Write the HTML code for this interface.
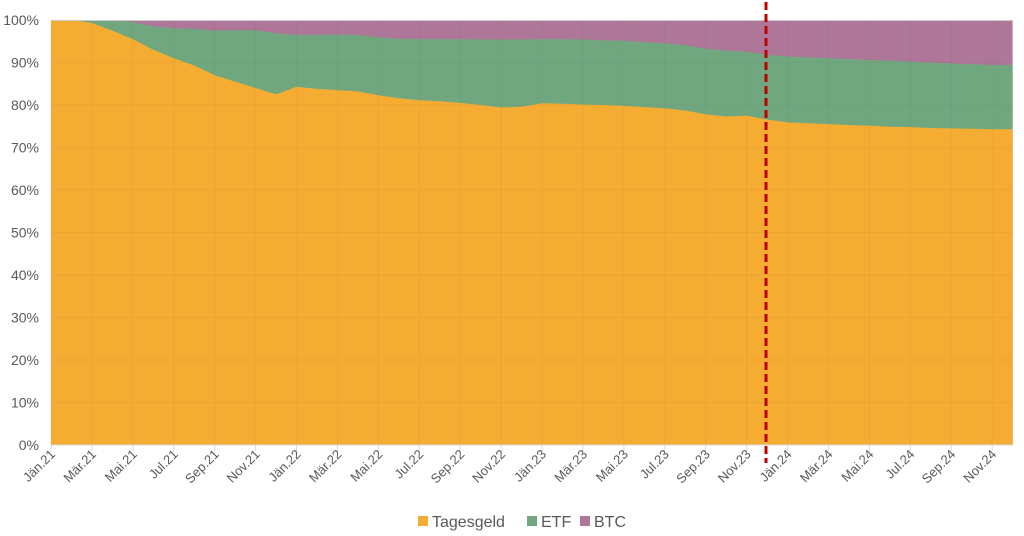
<!DOCTYPE html>
<html><head><meta charset="utf-8"><style>
html,body{margin:0;padding:0;background:#fff;}
svg{display:block;font-family:"Liberation Sans",sans-serif;}
</style></head><body>
<svg id="c" width="1024" height="536" xmlns="http://www.w3.org/2000/svg"></svg>
<script>
const T=[100,100,99.3,97.5,95.5,93,91,89.3,87,85.5,84,82.5,84.3,83.8,83.5,83.2,82.3,81.6,81.1,80.9,80.5,80,79.4,79.6,80.4,80.3,80.1,80,79.8,79.5,79.2,78.7,77.8,77.3,77.5,76.6,75.9,75.7,75.5,75.3,75.1,74.9,74.8,74.6,74.5,74.4,74.3,74.3];
const E=[100,100,100,100,99.5,98.5,98.1,97.9,97.5,97.6,97.6,96.9,96.5,96.5,96.6,96.5,95.9,95.6,95.5,95.5,95.5,95.4,95.4,95.4,95.5,95.5,95.4,95.2,95.1,94.8,94.5,94.1,93.2,92.8,92.6,91.8,91.4,91.2,91.0,90.8,90.6,90.4,90.2,90.0,89.8,89.6,89.4,89.4];
const X=i=>51+i*20.46, Y=v=>445-v*4.25;
let s='';
const pts=a=>a.map((v,i)=>X(i).toFixed(1)+','+Y(v).toFixed(1));
s+=`<rect x="51" y="20" width="${X(47)-51}" height="425" fill="#AE7799"/>`;
s+=`<polygon fill="#71A77F" points="${pts(E).join(' ')} ${X(47)},445 51,445"/>`;
s+=`<polygon fill="#F4AC33" points="${pts(T).join(' ')} ${X(47)},445 51,445"/>`;
for(let k=0;k<=10;k++){let y=Y(k*10);s+=`<line x1="51" x2="${X(47)}" y1="${y}" y2="${y}" stroke="#000" stroke-opacity="0.035"/>`;
s+=`<text x="39" y="${y+5}" font-size="14" fill="#595959" text-anchor="end">${k*10}%</text>`;}
const m=["Jän","Mär","Mai","Jul","Sep","Nov"];
for(let i=0;i<48;i+=2){let x=X(i);s+=`<line x1="${x}" x2="${x}" y1="20" y2="445" stroke="#000" stroke-opacity="0.035"/><line x1="${x}" x2="${x}" y1="445" y2="451" stroke="#d9d9d9"/>`;
let lab=m[(i%12)/2]+"."+(21+Math.floor(i/12));
s+=`<text transform="translate(${x+5},455) rotate(-45)" font-size="13" fill="#595959" text-anchor="end">${lab}</text>`;}
s+=`<line x1="51" x2="${X(47)}" y1="445" y2="445" stroke="#d9d9d9"/>`;
s+=`<line x1="51" x2="${X(47)}" y1="20.5" y2="20.5" stroke="#ccc"/>`;
s+=`<line x1="766" x2="766" y1="2" y2="463" stroke="#C00000" stroke-width="3" stroke-dasharray="8,4"/>`;
s+=`<rect x="418" y="516" width="10" height="10" fill="#F4AC33"/><text x="432" y="527" font-size="16" fill="#595959">Tagesgeld</text>`;
s+=`<rect x="527" y="516" width="10" height="10" fill="#71A77F"/><text x="541" y="527" font-size="16" fill="#595959">ETF</text>`;
s+=`<rect x="580" y="516" width="10" height="10" fill="#AE7799"/><text x="594" y="527" font-size="16" fill="#595959">BTC</text>`;
document.getElementById('c').innerHTML=s;
</script>
</body></html>
